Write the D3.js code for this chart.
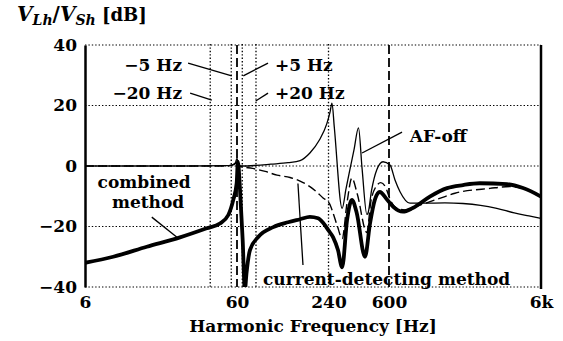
<!DOCTYPE html>
<html><head><meta charset="utf-8">
<script src="https://cdn.jsdelivr.net/npm/d3@7"></script>
<style>
body{margin:0;background:#fff;}
svg{display:block;background:#fff;}
</style></head><body>
<svg id="c" width="563" height="341"></svg>
<script>
// ---- data ----
const xTicks = [6, 60, 240, 600, 6000];
const xTickLabels = ["6", "60", "240", "600", "6k"];
const yTicks = [40, 20, 0, -20, -40];
const yTickLabels = ["40", "20", "0", "\u221220", "\u221240"];
const dottedLines = [40, 55, 65, 80, 240];
const dashedLines = [60, 600];

// [frequency Hz, dB]
const afOff = [[6,0],[30,0],[50,0.1],[56,0.4],[58.5,1],[60,2.5],[61.5,0.3],[65,0],[80,0.2],[100,0.6],[130,1.1],[156,1.8],[181,4.3],[209,8.6],[234,14],[246,18],[253,20.8],[262,12.8],[295,-14],[313,-7.5],[332,-1.1],[353,5.3],[378,12.6],[399,-0.8],[429,-16],[437,-15.5],[461,-8],[498,-1.3],[548,1.4],[609,0.3],[657,-4.6],[709,-8.5],[824,-12.3],[1000,-12.3],[1400,-12.2],[1840,-12.4],[2400,-13],[3070,-14],[4000,-15.5],[5000,-16.5],[6000,-17.3]];
const currentDetecting = [[6,0],[50,0],[56,0.3],[58.5,0.8],[60,2],[61.5,0],[65,-0.3],[76,-0.8],[92,-1.8],[110,-3],[134,-3.8],[156,-5],[181,-6.8],[200,-8.5],[220,-10.5],[244,-12.5],[257,-15.5],[275,-20],[295,-24],[318,-12],[342,-4],[370,-9],[429,-22],[455,-12],[490,-7],[530,-5.5],[570,-7],[609,-11],[680,-14],[760,-14.5],[960,-12.9],[1400,-10.1],[1630,-9],[2770,-7.4],[3750,-6.8],[4600,-7.5],[6000,-10]];
const combined = [[6,-32],[9.2,-30],[15.3,-26.7],[25.3,-23.6],[37.9,-20.6],[46.3,-19],[52.6,-16.2],[56.7,-11.2],[59.7,-5.7],[60.8,1.4],[62.8,-7.9],[65.4,-24.5],[67.6,-41],[69.3,-35.4],[73,-27.8],[83,-23.4],[104,-20.2],[130,-18.6],[156,-17.6],[181,-16.8],[205,-17.3],[221,-18.8],[240,-21.3],[257,-23.5],[277,-27.8],[295,-33.5],[318,-17.8],[342,-11.2],[368,-15.5],[417,-30],[450,-19],[484,-11.2],[522,-8.6],[580,-11],[640,-13.5],[741,-15.1],[860,-13.9],[1114,-10.1],[1446,-7.3],[1841,-6.3],[2370,-5.7],[3583,-6],[4570,-7.3],[6000,-10.1]];

// labels: text, freq, dB, anchor
const labels = [
  ["\u22125 Hz", 26.1, 31.4, "end"],
  ["\u221220 Hz", 26.1, 22.1, "end"],
  ["+5 Hz", 106.7, 31.4, "start"],
  ["+20 Hz", 106.7, 22.1, "start"],
  ["AF-off", 823, 7.9, "start"],
  ["combined", 14.7, -7.3, "middle"],
  ["method", 15.6, -13.9, "middle"],
  ["current-detecting method", 89, -39.3, "start"]
];
// leader lines: f1, dB1, f2, dB2
const leaders = [
  [28.6, 34.0, 55.4, 29.8],
  [29.5, 24.1, 41, 21.8],
  [96, 34.0, 66, 29.8],
  [96, 24.1, 79.6, 21.5],
  [731, 11.2, 399, 4.3],
  [16.5, -16.9, 24.5, -23.8],
  [151, -5.8, 163, -32.7]
];

// ---- chart ----
const FONT = '"DejaVu Serif", serif';
const svg = d3.select("#c");
const x = d3.scaleLog().domain([6, 6000]).range([85, 541]);
const y = d3.scaleLinear().domain([-40, 40]).range([287, 45]);

svg.append("defs").append("clipPath").attr("id","clip")
  .append("rect").attr("x", x(6)).attr("y", y(40)).attr("width", x(6000)-x(6)).attr("height", y(-40)-y(40));

// horizontal dotted grid
svg.append("g").selectAll("line").data(yTicks).join("line")
  .attr("x1", x(6)).attr("x2", x(6000)).attr("y1", d=>y(d)).attr("y2", d=>y(d))
  .attr("stroke","#000").attr("stroke-width",1.2).attr("stroke-dasharray","1.4,2");

// vertical dotted lines
svg.append("g").selectAll("line").data(dottedLines).join("line")
  .attr("x1", d=>x(d)).attr("x2", d=>x(d)).attr("y1", y(40)-1).attr("y2", y(-40))
  .attr("stroke","#000").attr("stroke-width",1.3).attr("stroke-dasharray","1.4,2");

// vertical dashed lines
svg.append("g").selectAll("line").data(dashedLines).join("line")
  .attr("x1", d=>x(d)).attr("x2", d=>x(d)).attr("y1", y(40)).attr("y2", y(-40))
  .attr("stroke","#000").attr("stroke-width",1.8).attr("stroke-dasharray","9,4");

// axes
const xAxis = d3.axisBottom(x).tickValues(xTicks).tickFormat((d,i)=>xTickLabels[i]).tickSize(0).tickPadding(9);
const gx = svg.append("g").attr("transform",`translate(0,${y(-40)})`).call(xAxis);
gx.select(".domain").remove();
gx.attr("font-family", null).attr("font-size", null);
gx.selectAll("text").style("font-family",FONT).style("font-weight","bold").style("font-size","17px").attr("fill","#000");

const yAxis = d3.axisLeft(y).tickValues(yTicks).tickFormat((d,i)=>yTickLabels[i]).tickSize(0).tickSizeOuter(0).tickPadding(8);
const gy = svg.append("g").attr("transform",`translate(${x(6)},0)`).call(yAxis);
gy.attr("font-family", null).attr("font-size", null);
gy.select(".domain").attr("stroke","#000").attr("stroke-width",2.5);
gy.selectAll("text").style("font-family",FONT).style("font-weight","bold").style("font-size","17px").attr("fill","#000");

// right border
svg.append("line").attr("x1", x(6000)).attr("x2", x(6000)).attr("y1", y(40)).attr("y2", y(-40)+2)
  .attr("stroke","#000").attr("stroke-width",2.5);

// curves
const line = d3.line().x(d=>x(d[0])).y(d=>y(d[1])).curve(d3.curveMonotoneX);
const gc = svg.append("g").attr("clip-path","url(#clip)");
gc.append("path").datum(currentDetecting).attr("d", line).attr("fill","none").attr("stroke","#000").attr("stroke-width",1.4).attr("stroke-dasharray","9,4");
gc.append("path").datum(afOff).attr("d", line).attr("fill","none").attr("stroke","#000").attr("stroke-width",1.3);
gc.append("path").datum(combined).attr("d", line).attr("fill","none").attr("stroke","#000").attr("stroke-width",3.8).attr("stroke-linejoin","round");

// leaders
svg.append("g").selectAll("line").data(leaders).join("line")
  .attr("x1", d=>x(d[0])).attr("y1", d=>y(d[1])).attr("x2", d=>x(d[2])).attr("y2", d=>y(d[3]))
  .attr("stroke","#000").attr("stroke-width",1.3);

// labels
svg.append("g").selectAll("text").data(labels).join("text")
  .attr("x", d=>x(d[1])).attr("y", d=>y(d[2])).attr("text-anchor", d=>d[3])
  .style("font-family",FONT).style("font-weight","bold").style("font-size","17px").attr("fill","#000")
  .text(d=>d[0]);

// axis titles
svg.append("text").attr("x", (x(6)+x(6000))/2).attr("y", 332).attr("text-anchor","middle")
  .style("font-family",FONT).style("font-weight","bold").style("font-size","17px")
  .text("Harmonic Frequency [Hz]");

const yt = svg.append("text").attr("x", 17).attr("y", 21)
  .style("font-family",FONT).style("font-weight","bold").style("font-size","20px");
yt.append("tspan").attr("font-style","italic").text("V");
yt.append("tspan").attr("font-style","italic").style("font-size","14px").attr("dy",4).text("Lh");
yt.append("tspan").attr("dy",-4).text("/");
yt.append("tspan").attr("font-style","italic").text("V");
yt.append("tspan").attr("font-style","italic").style("font-size","14px").attr("dy",4).text("Sh");
yt.append("tspan").attr("dy",-4).style("font-size","18px").text(" [dB]");
</script>
</body></html>
